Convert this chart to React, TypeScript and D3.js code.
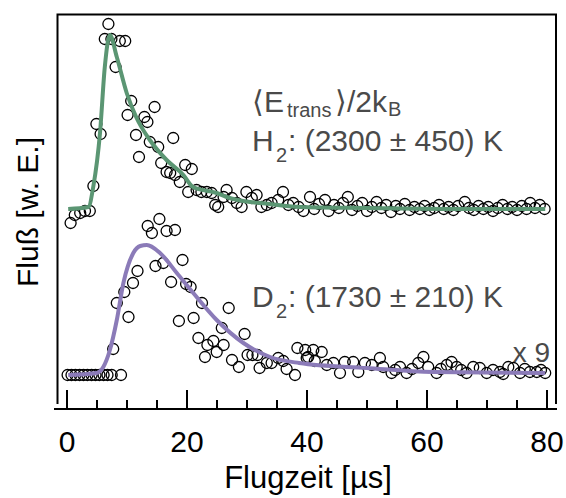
import React from "react";
import * as d3 from "d3";

// Flight time [µs] and relative flux (arbitrary units)
const h2Time = [0.6,1.3,2.2,3.0,3.8,4.4,4.9,5.6,6.3,6.9,7.4,8.1,8.8,9.7,10.1,10.7,11.5,12.0,12.9,13.4,13.8,14.6,15.2,15.7,16.6,17.2,17.7,18.0,18.8,19.7,20.2,20.8,21.6,22.4,23.3,24.1,24.7,25.2,26.1,26.6,27.5,28.3,29.1,29.9,30.8,31.6,32.4,33.3,34.1,35.2,36.0,36.9,37.7,
  38.6,39.4,40.5,41.2,42.0,43.0,43.6,44.5,45.3,46.0,46.8,47.5,48.4,49.2,50.0,50.8,51.6,52.4,53.2,54.0,54.8,55.5,56.3,57.1,57.9,58.8,59.6,60.4,61.2,62.0,62.8,63.6,64.4,65.2,66.3,67.0,67.8,68.6,69.4,70.2,71.0,71.8,72.6,73.4,74.2,75.0,75.8,76.6,77.2,78.0,78.8,79.6];
const h2Flux = [186,194,196,198,198,223,285,275,370,385,370,342,368,368,294,308,274,252,292,287,267,302,262,246,237,236,271,234,227,244,217,240,219,217,217,216,204,202,212,219,211,206,202,217,211,214,202,204,206,209,217,204,206,
  202,198,212,200,205,209,198,204,201,206,212,199,203,206,198,202,207,201,204,197,203,200,205,199,202,200,203,199,201,204,200,202,199,203,207,201,199,203,200,202,198,201,204,200,202,199,203,200,206,201,204,200];

const d2Time = [0.1,0.75,1.4,2.1,2.75,3.4,4.1,4.75,5.4,6.1,6.75,7.45,7.7,8.3,9.0,9.55,10.25,11.0,11.75,13.45,14.15,14.75,15.4,16.05,16.6,17.35,18.0,18.65,19.25,19.85,20.6,21.1,21.9,22.5,23.0,23.4,24.4,24.95,25.8,26.1,26.95,27.5,28.65,29.6,30.1,30.9,31.75,32.1,33.3,34.1,35.2,36.05,36.6,38.0,38.4,39.7,39.95,40.2,41.05,41.3,42.45,43.3,44.4,45.5,46.3,47.7,48.55,49.65,50.8,52.15,52.7,54.1,54.7,55.5,56.6,57.5,58.55,59.4,60.2,61.6,62.3,63.3,64.1,64.95,65.7,66.6,67.7,68.8,69.95,71.0,72.15,72.7,73.55,74.4,75.5,76.3,77.15,78.3,79.0,79.7];
const d2Flux = [34,34,34,34,34,34,34,34,34,34,34,34,60,106,34,117,92,126,138,183,176,143,190,146,178,127,179,88,149,125,122,91,71,106,52,64,68,57,81,64,101,49,42,75,54,54,54,41,46,46,51,48,40,34,61,59,51,52,59,48,57,44,46,36,47,47,37,46,44,51,42,36,39,42,36,40,46,52,42,36,40,44,47,42,39,36,42,41,36,39,37,35,42,41,36,40,37,37,39,36];

// Fit curves
const h2FitTime = [0.2,3.55,4.4,5.5,6.3,7.15,8.3,9.95,11.6,13.8,16.6,19.4,21.0,24.95,26.6,30.5,32.2,38.8,50,65,79.7];
const h2FitFlux = [200,202,223,276,342,374,352,316,291,269,249,234,222,216,212,207,206,202,201,200,200];
const d2FitTime = [0.2,4.95,6.05,7.15,8.3,9.4,11.05,12.2,13.3,15.5,18.3,21.05,24.95,29.4,33.85,38.7,49.95,61,79.7];
const d2FitFlux = [34,36,42,59,89,126,156,163,164,156,136,116,89,66,52,46,41,37,36];

const xTicks = [0, 20, 40, 60, 80];
const xMinorTicks = [5, 10, 15, 25, 30, 35, 45, 50, 55, 65, 70, 75];

const W = 566, H = 498;
const FONT = "'Liberation Sans', Arial, sans-serif";
const GREEN = "#5b9673";
const PURPLE = "#8b7bb8";
const TEXT = "#4a4a4a";

export default function App() {
  const x = d3.scaleLinear().domain([0, 80]).range([67, 547]);
  const y = d3.scaleLinear().domain([0, 395]).range([409, 14]);
  const line = d3.line<[number, number]>().x(d => x(d[0])).y(d => y(d[1])).curve(d3.curveMonotoneX);
  const h2Fit = line(h2FitTime.map((t, i) => [t, h2FitFlux[i]]));
  const d2Fit = line(d2FitTime.map((t, i) => [t, d2FitFlux[i]]));
  const axisY = 409;
  const left = 57.5, right = 556, top = 14.5, frameBottom = 404;

  return (
    <svg width={W} height={H} style={{ position: "absolute", left: 0, top: 0, background: "#fff" }} fontFamily={FONT}>
      {/* frame */}
      <path d={`M${left},${frameBottom}V${top}H${right}V${frameBottom}`} fill="none" stroke="#000" strokeWidth={2} />
      <line x1={54} x2={right + 1} y1={axisY} y2={axisY} stroke="#000" strokeWidth={2} />
      {xTicks.map(t => (
        <line key={"M" + t} x1={x(t)} x2={x(t)} y1={axisY} y2={axisY - 19} stroke="#000" strokeWidth={2} />
      ))}
      {xMinorTicks.map(t => (
        <line key={"m" + t} x1={x(t)} x2={x(t)} y1={axisY} y2={axisY - 9} stroke="#000" strokeWidth={2} />
      ))}
      {xTicks.map(t => (
        <text key={"l" + t} x={x(t)} y={452} fontSize={30} textAnchor="middle" fill="#000">{t}</text>
      ))}
      <text x={308} y={488} fontSize={31} textAnchor="middle" fill="#000">Flugzeit [µs]</text>
      <text transform="translate(38,212) rotate(-90)" fontSize={30} textAnchor="middle" fill="#000">Fluß [w. E.]</text>

      {/* data points */}
      {h2Time.map((t, i) => (
        <circle key={"h" + i} cx={x(t)} cy={y(h2Flux[i])} r={5.5} fill="none" stroke="#000" strokeWidth={1.3} />
      ))}
      {d2Time.map((t, i) => (
        <circle key={"d" + i} cx={x(t)} cy={y(d2Flux[i])} r={5.5} fill="none" stroke="#000" strokeWidth={1.3} />
      ))}
      <path d={h2Fit || ""} fill="none" stroke={GREEN} strokeWidth={4} strokeLinejoin="round" />
      <path d={d2Fit || ""} fill="none" stroke={PURPLE} strokeWidth={4} strokeLinejoin="round" />

      {/* annotations */}
      <text y={112} fontSize={30} fill={TEXT}>
        <tspan x={252}>⟨E</tspan>
        <tspan x={287} fontSize={20} dy={5}>trans</tspan>
        <tspan x={335} fontSize={30} dy={-5}>⟩/2k</tspan>
        <tspan dx={1} fontSize={20} dy={4}>B</tspan>
      </text>
      <text y={151} fontSize={30} fill={TEXT}>
        <tspan x={252}>H</tspan>
        <tspan x={276} fontSize={20} dy={11}>2</tspan>
        <tspan x={288} fontSize={30} dy={-11}>: (2300 ± 450) K</tspan>
      </text>
      <text y={307} fontSize={30} fill={TEXT}>
        <tspan x={252}>D</tspan>
        <tspan x={276} fontSize={20} dy={11}>2</tspan>
        <tspan x={288} fontSize={30} dy={-11}>: (1730 ± 210) K</tspan>
      </text>
      <text x={550} y={362} fontSize={28} textAnchor="end" fill={TEXT}>x 9</text>
    </svg>
  );
}
